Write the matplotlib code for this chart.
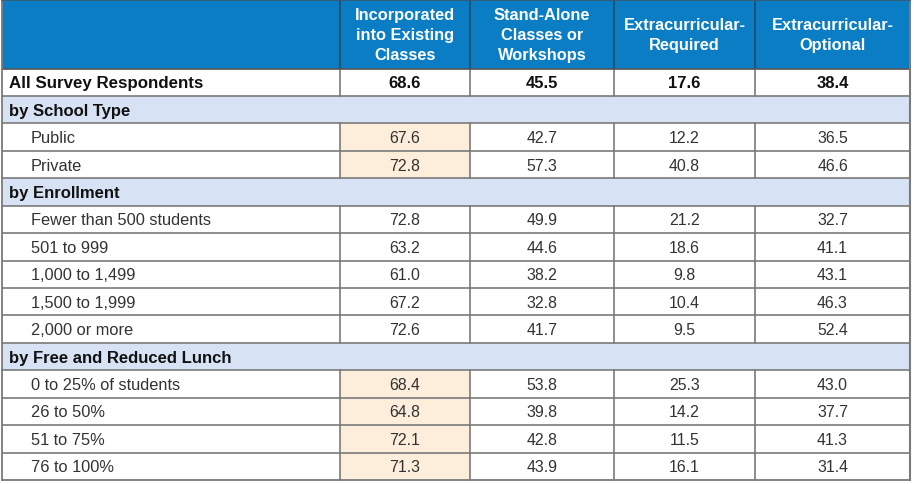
import matplotlib
matplotlib.use("Agg")
import matplotlib.pyplot as plt
from matplotlib.patches import Rectangle

plt.rcParams['font.family'] = ['Liberation Sans', 'DejaVu Sans']

columns = ["Incorporated\ninto Existing\nClasses", "Stand-Alone\nClasses or\nWorkshops",
           "Extracurricular-\nRequired", "Extracurricular-\nOptional"]

row_labels = ["All Survey Respondents", "by School Type", "Public", "Private",
              "by Enrollment", "Fewer than 500 students", "501 to 999", "1,000 to 1,499",
              "1,500 to 1,999", "2,000 or more", "by Free and Reduced Lunch",
              "0 to 25% of students", "26 to 50%", "51 to 75%", "76 to 100%"]
row_kind = ["total", "section", "data", "data", "section", "data", "data", "data",
            "data", "data", "section", "data", "data", "data", "data"]

incorporated = [68.6, None, 67.6, 72.8, None, 72.8, 63.2, 61.0, 67.2, 72.6, None, 68.4, 64.8, 72.1, 71.3]
stand_alone = [45.5, None, 42.7, 57.3, None, 49.9, 44.6, 38.2, 32.8, 41.7, None, 53.8, 39.8, 42.8, 43.9]
extra_required = [17.6, None, 12.2, 40.8, None, 21.2, 18.6, 9.8, 10.4, 9.5, None, 25.3, 14.2, 11.5, 16.1]
extra_optional = [38.4, None, 36.5, 46.6, None, 32.7, 41.1, 43.1, 46.3, 52.4, None, 43.0, 37.7, 41.3, 31.4]
highlight_rows = ["Public", "Private", "0 to 25% of students", "26 to 50%", "51 to 75%", "76 to 100%"]

values = [incorporated, stand_alone, extra_required, extra_optional]

W, H = 914, 485
fig = plt.figure(figsize=(W / 100, H / 100), dpi=100)
ax = fig.add_axes([0, 0, 1, 1])
ax.set_xlim(0, W)
ax.set_ylim(H, 0)
ax.axis('off')

xb = [2, 340, 470, 614, 755, 910]
top, head_bot, bottom = 1, 69.5, 481
n = len(row_labels)
rh = (bottom - head_bot) / n

HEAD = '#0a7dc5'
SECT = '#d7e3f4'
PEACH = '#fdeddb'
GRID = '#7a7a7a'
HEADLINE = '#1d4d6b'
TXT = '#333333'

# header
ax.add_patch(Rectangle((xb[0], top), xb[-1] - xb[0], head_bot - top, facecolor=HEAD, edgecolor='none'))
for x in xb[1:-1]:
    ax.plot([x, x], [top, head_bot], color=HEADLINE, lw=1.3)
for j, c in enumerate(columns):
    ax.text((xb[j + 1] + xb[j + 2]) / 2, (top + head_bot) / 2 + 0.5, c, color='white',
            fontsize=11.8, fontweight='bold', ha='center', va='center', linespacing=1.43)

for i, (lab, kind) in enumerate(zip(row_labels, row_kind)):
    y0 = head_bot + i * rh
    yc = y0 + rh / 2
    if kind == 'section':
        ax.add_patch(Rectangle((xb[0], y0), xb[-1] - xb[0], rh, facecolor=SECT, edgecolor='none'))
        ax.text(xb[0] + 7, yc + 0.5, lab, fontsize=12, fontweight='bold', color='#111111', va='center')
    else:
        if lab in highlight_rows:
            ax.add_patch(Rectangle((xb[1], y0), xb[2] - xb[1], rh, facecolor=PEACH, edgecolor='none'))
        for x in xb[1:-1]:
            ax.plot([x, x], [y0, y0 + rh], color=GRID, lw=1.2)
        bold = kind == 'total'
        ax.text(xb[0] + (7 if bold else 29), yc + 0.5, lab, fontsize=12.2 if bold else 11.8,
                fontweight='bold' if bold else 'normal', color='#111111' if bold else TXT, va='center')
        for j, col in enumerate(values):
            ax.text((xb[j + 1] + xb[j + 2]) / 2, yc + 0.5, f"{col[i]:.1f}",
                    fontsize=12 if bold else 11.4, fontweight='bold' if bold else 'normal',
                    color='#111111' if bold else TXT, ha='center', va='center')
    ax.plot([xb[0], xb[-1]], [y0, y0], color=GRID if i > 0 else '#555555', lw=1.2)

ax.plot([xb[0], xb[-1]], [bottom, bottom], color=GRID, lw=1.3)
ax.plot([xb[0], xb[0]], [top, bottom], color=GRID, lw=1.3)
ax.plot([xb[-1], xb[-1]], [top, bottom], color=GRID, lw=1.5)
ax.plot([xb[0], xb[-1]], [top, top], color='#3a5a70', lw=1.3)

fig.savefig("out.png", dpi=100)
